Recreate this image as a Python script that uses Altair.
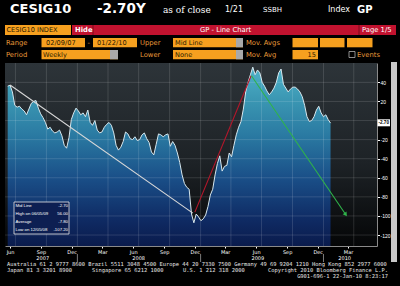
import altair as alt
import pandas as pd

# ---------------- data ----------------
values = [36, 37, 30, 16, 14, 15, 12, 10, 6, 12,
          18, 20, 21, 13, 7, 3, -2, -9, -7, -11,
          -13, -12, -10, -16, -26, -29, -18, 1, 8, 13,
          10, 6, 8, 4, 11, -2, -5, 0, -10, -13,
          -12, -7, -4, -2, -5, -13, -26, -31, -28, -22,
          -12, -14, -19, -20, -17, -21, -20, -15, -13, -19,
          -23, -33, -36, -25, -14, -15, -17, -15, -14, -27,
          -22, -26, -34, -44, -57, -66, -70, -72, -98, -107.2,
          -98, -101, -105, -103, -99, -90, -78, -72, -57, -45,
          -37, -53, -48, -47, -34, -38, -26, -15, -7, -1,
          12, 30, 40, 48, 56, 48, 53, 50, 40, 36,
          31, 27, 30, 34, 40, 50, 54, 38, 34, 30,
          33, 35, 35, 33, 30, 25, 16, 4, -1, 0,
          4, 11, 15, 8, 4, 6, 1, -2.7]
start_date = "2007-06-08"

y_ticks = [40, 20, -20, -40, -60, -80, -100, -120]
grid_values = [40, 20, 0, -20, -40, -60, -80, -100, -120]
grid_dates = ["2007-07-01", "2007-10-01", "2008-01-01", "2008-04-01", "2008-07-01",
              "2008-10-01", "2009-01-01", "2009-04-01", "2009-07-01", "2009-10-01",
              "2010-01-01", "2010-04-01"]
month_ticks = ["2007-06-15", "2007-09-15", "2007-12-15", "2008-03-15", "2008-06-15",
               "2008-09-15", "2008-12-15", "2009-03-15", "2009-06-15", "2009-09-15",
               "2009-12-15", "2010-03-15"]
year_names = ["2007", "2008", "2009", "2010"]
year_centers = ["2007-09-20", "2008-07-01", "2009-06-20", "2010-03-05"]
year_breaks = ["2008-01-01", "2009-01-01", "2010-01-01"]

trend_names = ["white", "red", "green"]
trend_start_dates = ["2007-06-15", "2008-12-15", "2009-06-01"]
trend_start_values = [37.2, -96, 47]
trend_end_dates = ["2008-12-09", "2009-05-31", "2010-03-07"]
trend_end_values = [-97, 47, -98]

stats_labels = ["Mid Line", "High on  06/05/09", "Average", "Low on  12/05/08"]
stats_values = ["-2.70", "56.00", "-7.80", "-107.20"]

footer_1 = "Australia 61 2 9777 8600 Brazil 5511 3048 4500 Europe 44 20 7330 7500 Germany 49 69 9204 1210 Hong Kong 852 2977 6000"
footer_2a = "Japan 81 3 3201 8900"
footer_2b = "Singapore 65 6212 1000"
footer_2c = "U.S. 1 212 318 2000"
footer_2d = "Copyright 2010 Bloomberg Finance L.P."
footer_3 = "G901-696-1 22-Jan-10  8:23:17"

# ---------------- tables ----------------
dates = pd.date_range(start_date, periods=len(values), freq="7D")
df = pd.DataFrame({"date": dates, "value": values})
grid_v_df = pd.DataFrame({"date": pd.to_datetime(grid_dates)})
grid_h_df = pd.DataFrame({"value": grid_values})
years_df = pd.DataFrame({"date": pd.to_datetime(year_centers), "year": year_names})
breaks_df = pd.DataFrame({"date": pd.to_datetime(year_breaks)})
trend_df = pd.DataFrame({
    "name": trend_names,
    "d1": pd.to_datetime(trend_start_dates), "v1": trend_start_values,
    "d2": pd.to_datetime(trend_end_dates), "v2": trend_end_values,
})
arrow_df = trend_df[trend_df["name"] == "green"]


def dt(s):
    t = pd.Timestamp(s)
    return alt.DateTime(year=t.year, month=t.month, date=t.day)


# ---------------- geometry ----------------
L, T = 5, 63
W, H = 372, 183
one = pd.DataFrame({"k": [0]})
Y_MIN, Y_MAX = -131.5, 60.3

xscale = alt.Scale(domain=[dt("2007-05-31"), dt("2010-06-09")])
yscale = alt.Scale(domain=[Y_MIN, Y_MAX], nice=False, zero=False)

xaxis = alt.Axis(values=[dt(s) for s in month_ticks], format="%b", labelFontSize=5,
                 labelColor="#ffffff", labelFont="DejaVu Sans", tickColor="#ffffff",
                 tickSize=2, labelPadding=1, domainColor="#8a8a8a", grid=False,
                 title=None, labelFlush=False)
yaxis = alt.Axis(orient="right", values=y_ticks, labelFontSize=5, labelColor="#ffffff",
                 labelFont="Liberation Sans", tickColor="#ffffff", tickSize=2.5,
                 labelPadding=0.5, domainColor="#8a8a8a", grid=False, title=None,
                 labelExpr="datum.value + ''")


def X(field):
    return alt.X(field, scale=xscale, axis=xaxis)


def Y(field):
    return alt.Y(field, scale=yscale, axis=yaxis)


ORANGE = "#f6a01f"
AMBER = "#e89a3a"
RED = "#c1122f"


def txt(s, x, y, size=7.0, color="#ffffff", weight="normal", font="DejaVu Sans",
        align="left", baseline="middle"):
    return alt.Chart(one).mark_text(
        text=s, fontSize=size, color=color, fontWeight=weight, font=font,
        align=align, baseline=baseline
    ).encode(x=alt.value(x - L), y=alt.value(y - T))


def box(x1, y1, x2, y2, fill, stroke=None, sw=0.0):
    kw = dict(fill=fill)
    if stroke:
        kw.update(stroke=stroke, strokeWidth=sw)
    return alt.Chart(one).mark_rect(**kw).encode(
        x=alt.value(x1 - L), x2=alt.value(x2 - L),
        y=alt.value(y1 - T), y2=alt.value(y2 - T))


layers = []

# plot background
layers.append(alt.Chart(one).mark_rect(
    fill=alt.Gradient(gradient="linear", x1=0, x2=0, y1=0, y2=1,
                      stops=[alt.GradientStop(color="#2d3439", offset=0),
                             alt.GradientStop(color="#1d2226", offset=0.55),
                             alt.GradientStop(color="#050607", offset=1)])
).encode(x=alt.value(0), x2=alt.value(W), y=alt.value(0), y2=alt.value(H)))

# area down to the bottom of the plot
layers.append(alt.Chart(df).mark_area(
    color=alt.Gradient(gradient="linear", x1=0, x2=0, y1=0, y2=1,
                       stops=[alt.GradientStop(color="#4fb2c9", offset=0),
                              alt.GradientStop(color="#3b97b3", offset=0.18),
                              alt.GradientStop(color="#2a7aa2", offset=0.38),
                              alt.GradientStop(color="#1a4f88", offset=0.62),
                              alt.GradientStop(color="#0f2b64", offset=0.85),
                              alt.GradientStop(color="#0a1b4c", offset=1)])
).encode(x=X("date:T"), y=Y("value:Q"), y2=alt.datum(Y_MIN)))

# grid lines
layers.append(alt.Chart(grid_v_df).mark_rule(color="#ffffff", opacity=0.13, strokeWidth=1)
              .encode(x=X("date:T")))
layers.append(alt.Chart(grid_h_df).mark_rule(color="#ffffff", opacity=0.13, strokeWidth=1)
              .encode(y=Y("value:Q")))

# line
layers.append(alt.Chart(df).mark_line(color="#d6e7ee", strokeWidth=1)
              .encode(x=X("date:T"), y=Y("value:Q")))

# trend lines
layers.append(alt.Chart(trend_df).mark_rule(strokeWidth=1.1).encode(
    x=X("d1:T"), x2="d2:T", y=Y("v1:Q"), y2="v2:Q",
    color=alt.Color("name:N", legend=None,
                    scale=alt.Scale(domain=trend_names,
                                    range=["#d8d8d8", "#b3172b", "#2fb34a"]))))
layers.append(alt.Chart(arrow_df).mark_point(shape="triangle", filled=True, size=22,
                                             angle=146, color="#2fb34a", opacity=1)
              .encode(x=X("d2:T"), y=Y("v2:Q")))

# statistics box
layers.append(box(14, 202, 69, 234, "#0d1f52", "#e6e6e6", 0.8))
for i, (a, b) in enumerate(zip(stats_labels, stats_values)):
    yy = 206 + i * 7.9
    layers.append(txt(a, 15.5, yy, size=4.3, color="#ffffff", font="Liberation Sans"))
    layers.append(txt(b, 68, yy, size=4.3, color="#ffffff", align="right",
                      font="Liberation Sans"))

# current value tag on the axis
layers.append(box(377.5, 119.3, 390, 126.3, "#ffffff"))
layers.append(txt("-2.70", 383.7, 123, size=4.6, color="#000000", weight="bold",
                  align="center", font="Liberation Sans"))

# x axis year row
layers.append(alt.Chart(breaks_df).mark_rule(color="#9a9a9a", strokeWidth=0.8).encode(
    x=X("date:T"), y=alt.value(H + 8), y2=alt.value(H + 16)))
layers.append(alt.Chart(years_df).mark_text(fontSize=5, color="#ffffff", font="DejaVu Sans",
                                            baseline="middle").encode(
    x=X("date:T"), y=alt.value(H + 12.3), text="year:N"))

# scrollbar at the right
layers.append(box(391, 62, 397, 262, "#c9c9c9"))

# header
layers.append(txt("CESIG10", 10, 9, size=13, weight="bold"))
layers.append(txt("-2.70Y", 97, 9, size=13.5, weight="bold"))
layers.append(txt("as of close", 163, 9.5, size=9, font="DejaVu Serif"))
layers.append(txt("1/21", 225, 9.5, size=8))
layers.append(txt("SSBH", 263, 9.5, size=7))
layers.append(txt("Index", 328, 9.5, size=8))
layers.append(txt("GP", 357, 9.5, size=10, weight="bold"))

# toolbar row 1
layers.append(box(5, 25, 71, 35, ORANGE))
layers.append(txt("CESIG10 INDEX", 6.5, 30, size=6.6, color="#2a1a00"))
layers.append(box(72, 25, 396, 35, RED))
layers.append(box(92.5, 25, 93.5, 35, "#7a0a1c"))
layers.append(box(358.5, 25, 359.5, 35, "#7a0a1c"))
layers.append(txt("Hide", 75, 30, size=6.8, weight="bold"))
layers.append(txt("GP - Line Chart", 200, 30, size=6.8))
layers.append(txt("Page 1/5", 362, 30, size=6.8))

# toolbar row 2
layers.append(txt("Range", 6, 42.5, size=6.8, color=AMBER))
layers.append(box(41.5, 38, 85, 47.3, ORANGE))
layers.append(txt("02/09/07", 46, 42.7, size=6.6, color="#2a1a00"))
layers.append(txt("-", 87.5, 42.5, size=6.8, color=AMBER))
layers.append(box(93, 38, 137, 47.3, ORANGE))
layers.append(txt("01/22/10", 97, 42.7, size=6.6, color="#2a1a00"))
layers.append(txt("Upper", 140, 42.5, size=6.8, color=AMBER))
layers.append(box(173, 38, 243, 47.3, ORANGE))
layers.append(box(236, 38, 243, 47.3, "#a9a9a9"))
layers.append(txt("Mid Line", 175, 42.7, size=6.6, color="#2a1a00"))
layers.append(txt("Mov. Avgs", 246, 42.5, size=6.8, color=AMBER))
layers.append(box(292.5, 38, 318, 47.3, ORANGE))
layers.append(box(320, 38, 344.5, 47.3, ORANGE))
layers.append(box(347, 38, 372.5, 47.3, ORANGE))

# toolbar row 3
layers.append(txt("Period", 6, 54.7, size=6.8, color=AMBER))
layers.append(box(41.5, 50, 118, 59.3, ORANGE))
layers.append(box(110, 50, 118, 59.3, "#a9a9a9"))
layers.append(txt("Weekly", 43, 54.8, size=6.6, color="#2a1a00"))
layers.append(txt("Lower", 140, 54.7, size=6.8, color=AMBER))
layers.append(box(173, 50, 243, 59.3, ORANGE))
layers.append(box(236, 50, 243, 59.3, "#a9a9a9"))
layers.append(txt("None", 175, 54.8, size=6.6, color="#2a1a00"))
layers.append(txt("Mov. Avg", 246, 54.7, size=6.8, color=AMBER))
layers.append(box(292.5, 50, 318, 59.3, ORANGE))
layers.append(txt("15", 316, 54.8, size=6.6, color="#2a1a00", align="right"))
layers.append(box(349, 51.5, 355, 57.5, "#000000", "#b0b0b0", 0.8))
layers.append(txt("Events", 357, 54.7, size=6.8, color=AMBER))

# footer
FM = "DejaVu Sans Mono"
layers.append(txt(footer_1, 7, 264.3, size=5.4, font=FM, color="#e6e6e6"))
layers.append(txt(footer_2a, 7, 270, size=5.4, font=FM, color="#e6e6e6"))
layers.append(txt(footer_2b, 92, 270, size=5.4, font=FM, color="#e6e6e6"))
layers.append(txt(footer_2c, 183, 270, size=5.4, font=FM, color="#e6e6e6"))
layers.append(txt(footer_2d, 388, 270, size=5.4, font=FM, color="#e6e6e6", align="right"))
layers.append(txt(footer_3, 388, 275.5, size=5.4, font=FM, color="#e6e6e6", align="right"))

chart = alt.layer(*layers).properties(
    width=W, height=H,
    padding={"left": L, "top": T, "right": 400 - L - W, "bottom": 286 - T - H},
    autosize=alt.AutoSizeParams(type="none"),
    background="#000000",
).configure_view(stroke=None)

chart.save("out.html", embed_options={"renderer": "svg", "actions": False})
